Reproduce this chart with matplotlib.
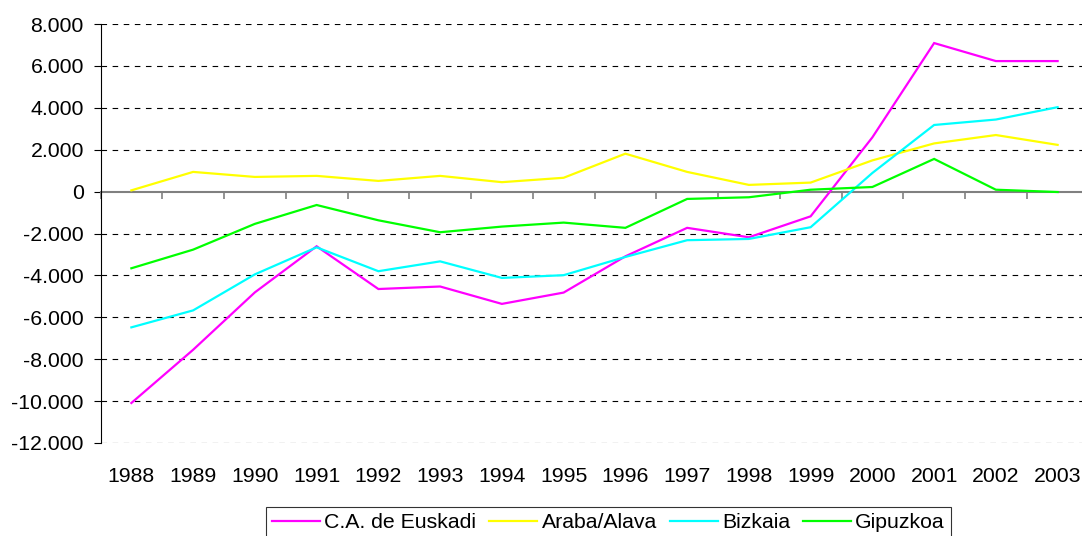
import numpy as np
import matplotlib
matplotlib.use('Agg')
import matplotlib.pyplot as plt
from matplotlib.ticker import FuncFormatter

plt.rcParams['font.family'] = ['Liberation Sans', 'DejaVu Sans']

# data
years = ['1988', '1989', '1990', '1991', '1992', '1993', '1994', '1995',
         '1996', '1997', '1998', '1999', '2000', '2001', '2002', '2003']

euskadi = [-10090, -7550, -4810, -2610, -4650, -4530, -5360, -4820,
           -3090, -1730, -2180, -1180, 2590, 7090, 6230, 6230]
araba = [60, 940, 700, 750, 510, 750, 450, 660,
         1810, 940, 320, 430, 1490, 2300, 2700, 2230]
bizkaia = [-6480, -5670, -3950, -2660, -3800, -3330, -4120, -3990,
           -3120, -2320, -2260, -1700, 890, 3180, 3440, 4030]
gipuzkoa = [-3660, -2770, -1540, -640, -1370, -1940, -1670, -1480,
            -1730, -350, -270, 90, 220, 1560, 90, -20]

names = ['C.A. de Euskadi', 'Araba/Alava', 'Bizkaia', 'Gipuzkoa']
colors = ['#FF00FF', '#FFFF00', '#00FFFF', '#00FF00']

FS = 15.3

fig = plt.figure(figsize=(10.82, 5.36), dpi=100)
ax = fig.add_axes([100.5 / 1082, 1 - 443 / 536, 988 / 1082, 419 / 536])

x = np.arange(len(years))
for vals, name, col in zip([euskadi, araba, bizkaia, gipuzkoa], names, colors):
    ax.plot(x, vals, color=col, lw=1.6, label=name, solid_joinstyle='miter', zorder=3)

ax.set_xlim(-0.5, 15.5)
ax.set_ylim(-12000, 8000)
ax.set_yticks(np.arange(-12000, 8001, 2000))
ax.yaxis.set_major_formatter(FuncFormatter(
    lambda v, p: '{:,.0f}'.format(v).replace(',', '.')))

# dashed gridlines (not at zero, where the category axis sits)
for v in np.arange(-12000, 8001, 2000):
    if v != 0:
        ax.axhline(v, color='black', lw=0.8, ls=(0, (5, 5)), zorder=1)

for s in ['top', 'right']:
    ax.spines[s].set_visible(False)
ax.spines['left'].set_color('black')
ax.spines['left'].set_linewidth(0.8)
ax.spines['bottom'].set_position(('data', 0))
ax.spines['bottom'].set_color('#808080')
ax.spines['bottom'].set_linewidth(1.5)
ax.spines['bottom'].set_zorder(2)

ax.set_xticks(np.arange(-0.5, 16, 1))
ax.set_xticklabels([])
ax.tick_params(axis='x', direction='out', length=5, width=1.2, color='#808080')
ax.tick_params(axis='y', direction='out', length=5, width=0.8, pad=7,
               labelsize=FS, color='black')

for i, yr in enumerate(years):
    ax.annotate(yr, xy=(i, 0), xycoords=('data', 'axes fraction'),
                xytext=(0, -38.5), textcoords='offset pixels',
                ha='center', va='baseline', fontsize=FS)

leg = ax.legend(loc='upper center', bbox_to_anchor=(608.5 / 1082, 1 - 507 / 536),
                bbox_transform=fig.transFigure, ncol=4, fontsize=FS,
                frameon=True, fancybox=False, shadow=False,
                handlelength=2.26, handletextpad=0.19, columnspacing=0.61,
                borderpad=0.28, borderaxespad=0)
leg.get_frame().set_edgecolor('black')
leg.get_frame().set_linewidth(0.8)

fig.savefig('out.png', dpi=100)
